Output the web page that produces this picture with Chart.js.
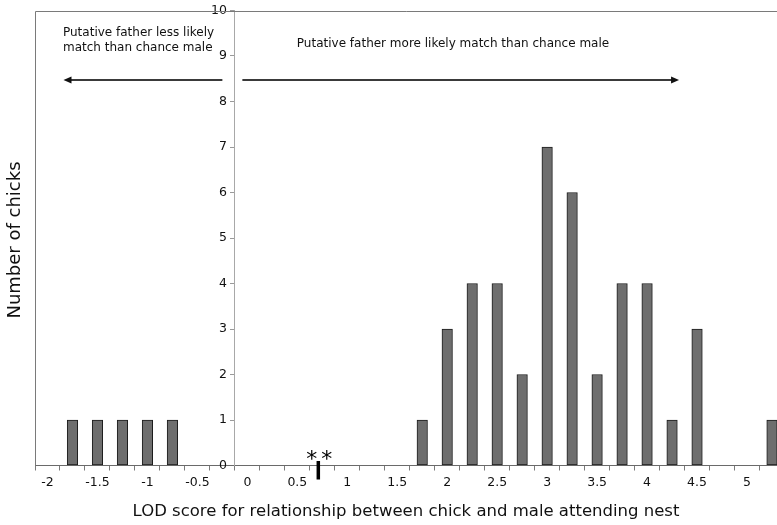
<!DOCTYPE html>
<html>
<head>
<meta charset="utf-8">
<script src="https://cdn.jsdelivr.net/npm/chart.js@4.4.1/dist/chart.umd.min.js"></script>
<style>
html, body { margin: 0; padding: 0; background: #fff; overflow: hidden; }
canvas { display: block; }
</style>
</head>
<body>
<canvas id="mycanvas" width="777" height="525"></canvas>
<script>
// LOD score bins (centre of each bin) and number of chicks in each
var lodScores = [-1.75, -1.5, -1.25, -1, -0.75, 1.75, 2, 2.25, 2.5, 2.75, 3, 3.25, 3.5, 3.75, 4, 4.25, 4.5, 5.25];
var chickCounts = [1, 1, 1, 1, 1, 1, 3, 4, 4, 2, 7, 6, 2, 4, 4, 1, 3, 1];

// tick labels
var xLabelValues = [-2, -1.5, -1, -0.5, 0, 0.5, 1, 1.5, 2, 2.5, 3, 3.5, 4, 4.5, 5];
var yTickValues = [0, 1, 2, 3, 4, 5, 6, 7, 8, 9, 10];

// LOD score of the attending male marked with **
var markedScore = [0.71];

var noteLess = ['Putative father less likely', 'match than chance male'];
var noteMore = 'Putative father more likely match than chance male';

var FONT = "'DejaVu Sans', Verdana, sans-serif";

function isBoundary(v) {
	var k = Math.round((v + 2.125) / 0.125);
	return k % 2 === 0;
}

function arrow(ctx, x1, x2, y) {
	var dir = x2 > x1 ? 1 : -1;
	ctx.strokeStyle = '#3a3a3a';
	ctx.fillStyle = '#111';
	ctx.lineWidth = 2;
	ctx.beginPath();
	ctx.moveTo(x1, y);
	ctx.lineTo(x2 - dir * 6, y);
	ctx.stroke();
	ctx.beginPath();
	ctx.moveTo(x2, y);
	ctx.lineTo(x2 - dir * 8, y - 3.5);
	ctx.lineTo(x2 - dir * 8, y + 3.5);
	ctx.closePath();
	ctx.fill();
}

var decorations = {
	id: 'decorations',
	afterDraw: function(chart) {
		var ctx = chart.ctx;
		var xs = chart.scales.x;
		var ys = chart.scales.y;
		var area = chart.chartArea;
		ctx.save();

		// plot frame (top and left)
		ctx.strokeStyle = '#7a7a7a';
		ctx.lineWidth = 1;
		ctx.beginPath();
		ctx.moveTo(Math.round(area.left) + 0.5, area.bottom);
		ctx.lineTo(Math.round(area.left) + 0.5, Math.round(area.top) + 0.5);
		ctx.lineTo(area.right, Math.round(area.top) + 0.5);
		ctx.stroke();

		// arrows
		var ay = Math.round(ys.getPixelForValue(8.48));
		arrow(ctx, xs.getPixelForValue(-0.25), xs.getPixelForValue(-1.84), ay);
		arrow(ctx, xs.getPixelForValue(-0.05), xs.getPixelForValue(4.32), ay);

		// notes
		ctx.fillStyle = '#111';
		ctx.font = '12px ' + FONT;
		ctx.textAlign = 'left';
		ctx.textBaseline = 'middle';
		ctx.fillText(noteLess[0], xs.getPixelForValue(-1.845), 33);
		ctx.fillText(noteLess[1], xs.getPixelForValue(-1.845), 48);
		ctx.fillText(noteMore, xs.getPixelForValue(0.495), 44);

		// ** marker
		markedScore.forEach(function(v) {
			var mx = xs.getPixelForValue(v);
			ctx.fillStyle = '#000';
			ctx.fillRect(mx - 1.75, area.bottom - 4.5, 3.5, 18.5);
			ctx.font = '22px ' + FONT;
			ctx.textAlign = 'center';
			ctx.textBaseline = 'alphabetic';
			ctx.fillText('*', mx - 6.5, area.bottom + 0.5);
			ctx.fillText('*', mx + 8.5, area.bottom + 0.5);
		});

		// y axis title
		ctx.translate(15, 240);
		ctx.rotate(-Math.PI / 2);
		ctx.font = '18px ' + FONT;
		ctx.fillStyle = '#111';
		ctx.textAlign = 'center';
		ctx.textBaseline = 'middle';
		ctx.fillText('Number of chicks', 0, 0);
		ctx.restore();
	}
};

var points = [];
for (var i in lodScores) {
	points.push({x: lodScores[i], y: chickCounts[i]});
}

var ctx = document.getElementById('mycanvas');

var histogram = new Chart(ctx, {
	type: 'bar',
	data: {
		datasets: [{
			label: 'Number of chicks',
			data: points,
			backgroundColor: '#6e6e6e',
			borderColor: '#1c1c1c',
			borderWidth: 1,
			borderSkipped: false,
			barThickness: 10.5
		}]
	},
	options: {
		responsive: false,
		animation: false,
		events: [],
		layout: { padding: { top: 10, left: 35, right: 0, bottom: 0 } },
		plugins: {
			legend: { display: false },
			tooltip: { enabled: false }
		},
		scales: {
			x: {
				type: 'linear',
				position: 'bottom',
				offset: false,
				min: -2.125,
				max: 5.3,
				afterBuildTicks: function(scale) {
					var t = [];
					for (var k = 0; -2.125 + k * 0.125 <= 5.3; k++) {
						t.push({value: -2.125 + k * 0.125});
					}
					scale.ticks = t;
				},
				afterFit: function(scale) { scale.height = 59.5; },
				grid: {
					offset: false,
					drawOnChartArea: false,
					tickLength: 5,
					tickColor: function(c) {
						return c.tick && isBoundary(c.tick.value) ? '#7a7a7a' : 'rgba(0,0,0,0)';
					}
				},
				border: { color: '#6a6a6a', width: 1 },
				ticks: {
					autoSkip: false,
					maxRotation: 0,
					padding: 5,
					color: '#111',
					font: { family: FONT, size: 12.5 },
					callback: function(v) {
						for (var j in xLabelValues) {
							if (Math.abs(xLabelValues[j] - v) < 1e-6) return String(xLabelValues[j]);
						}
						return '';
					}
				},
				title: {
					display: true,
					text: 'LOD score for relationship between chick and male attending nest',
					color: '#111',
					font: { family: FONT, size: 16.5 },
					padding: { top: 0, bottom: 3 }
				}
			},
			y: {
				type: 'linear',
				position: { x: -0.125 },
				min: 0,
				max: 10,
				afterBuildTicks: function(scale) {
					scale.ticks = yTickValues.map(function(v) { return {value: v}; });
				},
				grid: { drawOnChartArea: false, tickLength: 4, tickColor: '#9a9a9a' },
				border: { color: '#a8a8a8', width: 1 },
				ticks: {
					color: '#111',
					font: { family: FONT, size: 12.5 },
					callback: function(v) { return v + '  '; }
				}
			}
		}
	},
	plugins: [decorations]
});
</script>
</body>
</html>
